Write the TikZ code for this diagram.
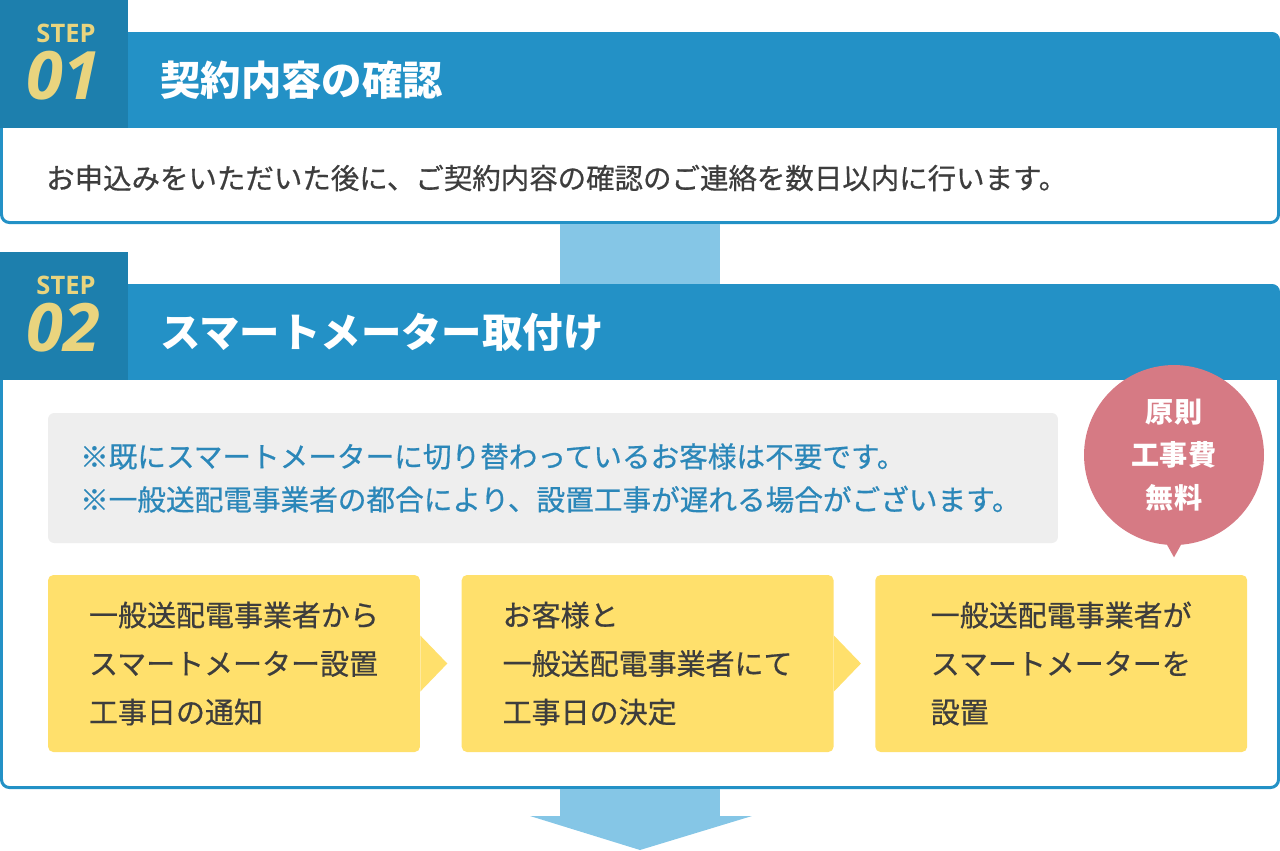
\documentclass[tikz,border=0pt]{standalone}
\usepackage{fontspec}
\setmainfont{Noto Sans CJK JP}
\newfontfamily\medfont{Noto Sans CJK JP}[BoldFont=Noto Sans CJK JP, BoldFeatures={FakeBold=0.6}]
\newfontfamily\numfont{Open Sans}
\usepackage{tikz}
\usetikzlibrary{positioning}

\definecolor{stepdark}{HTML}{1D7FAD}
\definecolor{stephead}{HTML}{2391C6}
\definecolor{stepgold}{HTML}{E9D47E}
\definecolor{arrowblue}{HTML}{85C6E6}
\definecolor{notegray}{HTML}{EEEEEE}
\definecolor{notetext}{HTML}{2B87B9}
\definecolor{badgepink}{HTML}{D67A84}
\definecolor{stepyellow}{HTML}{FFE06C}
\definecolor{textdark}{HTML}{3D3D3D}

\begin{document}
\begin{tikzpicture}[x=0.02cm, y=-0.02cm,
  stepsq/.style={fill=stepdark, minimum size=2.56cm, inner sep=0pt, anchor=north west},
  steplbl/.style={text=stepgold, font=\numfont\fontsize{14.5}{14.5}\selectfont\bfseries},
  stepnum/.style={text=stepgold, font=\numfont\fontsize{38}{38}\selectfont\bfseries\itshape},
  title/.style={text=white, anchor=west, font=\fontsize{23}{26}\selectfont\bfseries},
  frame/.style={draw=stephead, fill=white, line width=0.06cm, rounded corners=4.5pt},
  bodytext/.style={text=textdark, anchor=west, font=\medfont\fontsize{16.2}{20}\selectfont\bfseries},
  notebox/.style={fill=notegray, rounded corners=3.5pt, minimum height=2.6cm, text width=18.92cm,
    inner xsep=0.64cm, align=left, text=notetext, font=\medfont\fontsize{16.3}{24.5}\selectfont\bfseries},
  badge/.style={circle, fill=badgepink, minimum size=3.6cm, inner sep=0pt, text=white, align=center,
    font=\fontsize{16}{24.5}\selectfont\bfseries},
  flowbox/.style={fill=stepyellow, rounded corners=3pt, minimum width=7.44cm, minimum height=3.54cm,
    text=textdark, align=left, font=\medfont\fontsize{16.5}{27.6}\selectfont\bfseries},
  flowarrow/.style={fill=arrowblue}
]
  \useasboundingbox (0,0) rectangle (1280,850);

  % step 01
  \fill[stephead, rounded corners=4.5pt] (120,32) rectangle (1280,140);
  \filldraw[frame] (1.5,128) -- (1.5,222.5) -- (1278.5,222.5) -- (1278.5,128);
  \node[stepsq] (sq1) at (0,0) {};
  \node[steplbl] (lbl1) at (66,33) {STEP};
  \node[stepnum] (num1) at (63,76) {01};
  \node[title] (title1) at (154,80) {契約内容の確認};
  \node[bodytext] (text1) at (40,178) {お申込みをいただいた後に、ご契約内容の確認のご連絡を数日以内に行います。};

  \coordinate (out1) at (640,224);
  \coordinate (in2) at (640,284);
  \fill[flowarrow] ([xshift=-1.6cm]out1) rectangle ([xshift=1.6cm]in2);

  % step 02
  \fill[stephead, rounded corners=4.5pt] (120,284) rectangle (1280,392);
  \filldraw[frame] (1.5,380) -- (1.5,787.5) -- (1278.5,787.5) -- (1278.5,380);
  \node[stepsq] (sq2) at (0,252) {};
  \node[steplbl] (lbl2) at (66,285) {STEP};
  \node[stepnum] (num2) at (63,328) {02};
  \node[title] (title2) at (154,332) {スマートメーター取付け};

  \node[notebox] (note) at (553,478) {※既にスマートメーターに切り替わっているお客様は不要です。\\※一般送配電事業者の都合により、設置工事が遅れる場合がございます。};

  \node[badge] (badge) at (1174,455) {原則\\工事費\\無料};
  \fill[badgepink] ([xshift=-0.3cm,yshift=0.3cm]badge.south) -- ([yshift=-0.24cm]badge.south)
    -- ([xshift=0.3cm,yshift=0.3cm]badge.south) -- cycle;

  \node[flowbox] (flow1) at (234,663.5) {一般送配電事業者から\\スマートメーター設置\\工事日の通知};
  \node[flowbox, right=0.82cm of flow1] (flow2) {お客様と\\一般送配電事業者にて\\工事日の決定};
  \node[flowbox, right=0.82cm of flow2] (flow3) {一般送配電事業者が\\スマートメーターを\\設置};
  \foreach \b in {flow1, flow2}
    \fill[stepyellow] ([yshift=0.56cm]\b.east) -- ([xshift=0.54cm]\b.east) -- ([yshift=-0.56cm]\b.east) -- cycle;

  \coordinate (out2) at (640,789);
  \fill[flowarrow] ([xshift=-1.6cm]out2) -- ([xshift=-1.6cm,yshift=-0.54cm]out2)
    -- ([xshift=-2.2cm,yshift=-0.54cm]out2) -- ([yshift=-1.22cm]out2)
    -- ([xshift=2.24cm,yshift=-0.54cm]out2) -- ([xshift=1.6cm,yshift=-0.54cm]out2)
    -- ([xshift=1.6cm]out2) -- cycle;
\end{tikzpicture}
\end{document}
